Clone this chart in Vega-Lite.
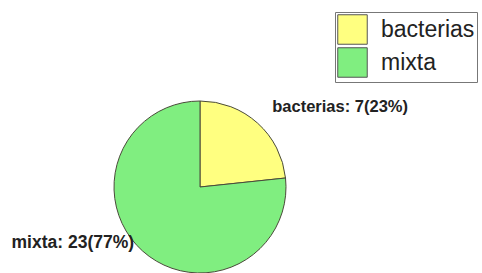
{
  "$schema": "https://vega.github.io/schema/vega-lite/v6.json",
  "width": 400,
  "height": 374,
  "padding": 0,
  "autosize": {"type": "pad"},
  "background": "white",
  "config": {"view": {"stroke": null}, "font": "Liberation Sans"},
  "data": {
    "values": [
      {"grupo": "bacterias", "n": 7, "orden": 1, "etiqueta": "bacterias: 7(23%)"},
      {"grupo": "mixta", "n": 23, "orden": 2, "etiqueta": "mixta: 23(77%)"}
    ]
  },
  "encoding": {
    "theta": {"field": "n", "type": "quantitative", "stack": true},
    "order": {"field": "orden", "type": "quantitative"}
  },
  "layer": [
    {
      "mark": {"type": "arc", "outerRadius": 86, "stroke": "#4a4a3a", "strokeWidth": 1},
      "encoding": {
        "color": {
          "field": "grupo",
          "type": "nominal",
          "scale": {"domain": ["bacterias", "mixta"], "range": ["#FFFF80", "#80EE80"]},
          "legend": {
            "title": null,
            "orient": "none",
            "legendX": 335,
            "legendY": 12,
            "symbolType": "square",
            "symbolSize": 870,
            "symbolStrokeColor": "#555555",
            "symbolStrokeWidth": 1,
            "symbolOpacity": 1,
            "labelFontSize": 23,
            "labelColor": "#222222",
            "labelOffset": 13,
            "rowPadding": -2,
            "padding": 2,
            "strokeColor": "#777777",
            "fillColor": "white"
          }
        }
      }
    },
    {
      "mark": {"type": "text", "radius": 108, "align": "left", "baseline": "middle", "fontSize": 16.5, "fontWeight": "bold", "color": "#222222"},
      "encoding": {
        "text": {"condition": {"test": "datum.grupo === 'bacterias'", "field": "etiqueta"}, "value": ""}
      }
    },
    {
      "mark": {"type": "text", "radius": 88, "align": "right", "baseline": "middle", "dx": -7, "dy": -9, "fontSize": 17.5, "fontWeight": "bold", "color": "#222222"},
      "encoding": {
        "text": {"condition": {"test": "datum.grupo === 'mixta'", "field": "etiqueta"}, "value": ""}
      }
    }
  ]
}
